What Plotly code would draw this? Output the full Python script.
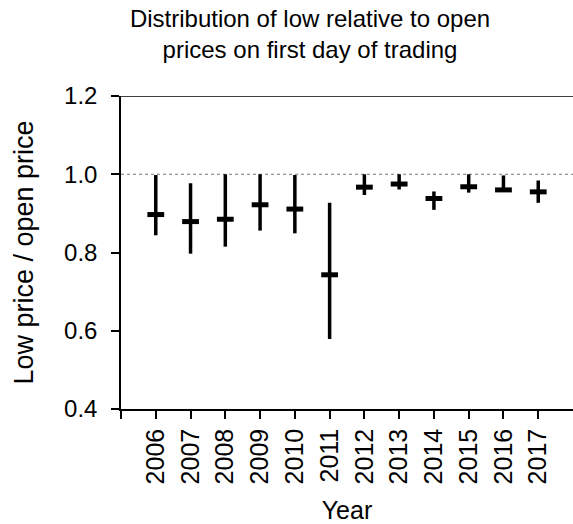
import numpy as np
import plotly.graph_objects as go

years = [2006, 2007, 2008, 2009, 2010, 2011, 2012, 2013, 2014, 2015, 2016, 2017]
low_vals = [0.844, 0.797, 0.815, 0.856, 0.849, 0.579, 0.947, 0.961, 0.909, 0.953, 0.960, 0.927]
high_vals = [0.998, 0.977, 1.000, 1.000, 0.998, 0.927, 1.000, 1.000, 0.956, 1.000, 0.997, 0.984]
median_vals = [0.897, 0.879, 0.885, 0.922, 0.911, 0.743, 0.967, 0.975, 0.938, 0.968, 0.960, 0.955]
y_ticks = [0.4, 0.6, 0.8, 1.0, 1.2]
y_tick_labels = ["0.4", "0.6", "0.8", "1.0", "1.2"]
reference_level = 1.0

FONT = "Arial, Liberation Sans, Helvetica, sans-serif"

med = np.array(median_vals)
up = np.array(high_vals) - med
down = med - np.array(low_vals)

fig = go.Figure()
fig.add_trace(go.Scatter(
    x=years, y=median_vals, mode="markers",
    marker=dict(symbol="line-ew", size=12, color="black",
                line=dict(color="black", width=5)),
    error_y=dict(type="data", array=up, arrayminus=down, symmetric=False,
                 color="black", thickness=3.5, width=0),
    showlegend=False, hoverinfo="skip",
))

# dotted reference line at 1.0
fig.add_shape(type="line", xref="paper", yref="y", x0=0, x1=1,
              y0=reference_level, y1=reference_level,
              line=dict(color="#777777", width=1, dash="dot"), layer="below")
# top border line
fig.add_shape(type="line", xref="paper", yref="y", x0=0, x1=1,
              y0=max(y_ticks), y1=max(y_ticks),
              line=dict(color="black", width=1.5))

xtickvals = [years[0] - 1] + years
xticktext = [""] + [str(y) for y in years]

fig.update_layout(
    width=573, height=524,
    margin=dict(l=121, r=0, t=96, b=115),
    paper_bgcolor="white", plot_bgcolor="white",
    font=dict(family=FONT, color="black", size=24),
    title=dict(text="Distribution of low relative to open<br>prices on first day of trading",
               font=dict(family=FONT, size=24, color="black"),
               x=310 / 573, xref="container", xanchor="center",
               y=1 - 27 / 524, yref="container", yanchor="top"),
    xaxis=dict(range=[years[0] - 1, years[-1] + 1], tickvals=xtickvals, ticktext=xticktext,
               tickangle=-90, ticks="outside", ticklen=8, tickwidth=1.5, tickcolor="black",
               showline=True, linecolor="black", linewidth=1.5, showgrid=False, zeroline=False,
               tickfont=dict(family=FONT, size=25, color="black"), automargin=False,
               title=dict(text="Year", font=dict(family=FONT, size=25, color="black"), standoff=18)),
    yaxis=dict(range=[min(y_ticks), max(y_ticks)], tickvals=y_ticks, ticktext=y_tick_labels,
               ticks="outside", ticklen=8, tickwidth=1.5, tickcolor="black",
               showline=True, linecolor="black", linewidth=1.5, showgrid=False, zeroline=False,
               tickfont=dict(family=FONT, size=24, color="black"), automargin=False,
               ticklabelstandoff=9,
               title=dict(text="Low price / open price", font=dict(family=FONT, size=27, color="black"),
                          standoff=23)),
)

fig.write_html("out.html", config={"displayModeBar": False},
               post_script="document.body.style.margin='0px';document.body.style.overflow='hidden';")
